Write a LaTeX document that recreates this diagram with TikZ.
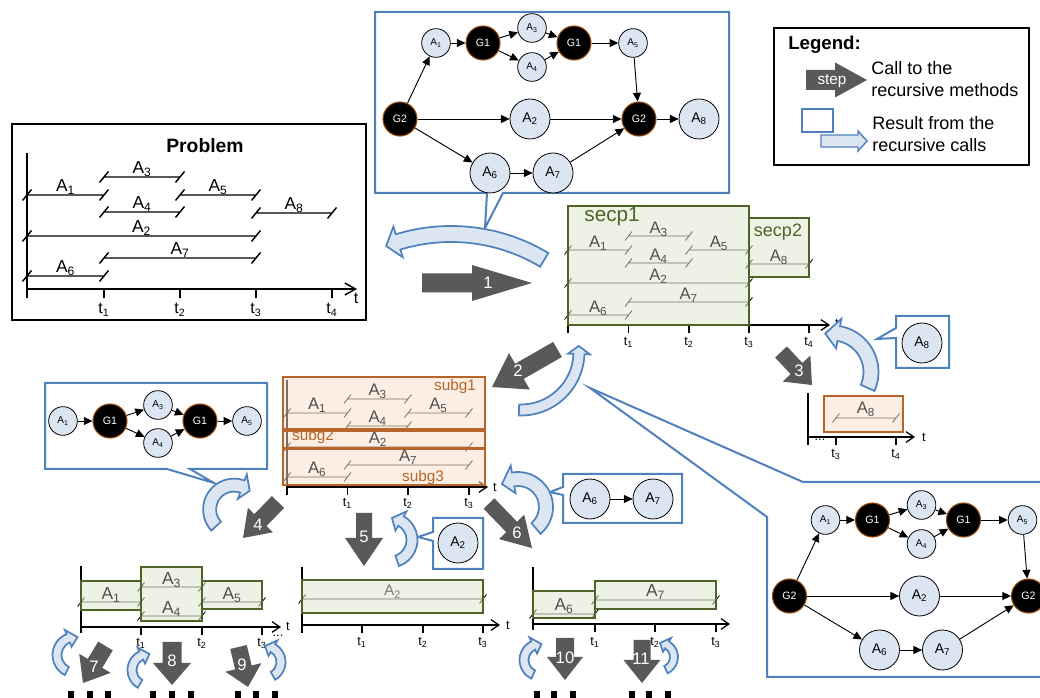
\documentclass[tikz,border=0pt]{standalone}
\usepackage{fontspec}
\setmainfont{Liberation Sans}
\usetikzlibrary{arrows.meta}

\definecolor{callblue}{HTML}{4F81BD}
\definecolor{paleblue}{HTML}{DCE6F2}
\definecolor{stepgray}{HTML}{595959}
\definecolor{lblgray}{HTML}{505050}
\definecolor{secgreen}{HTML}{4F6228}
\definecolor{secfill}{HTML}{DDE5C9}
\definecolor{subgbrown}{HTML}{B7652A}
\definecolor{subgfill}{HTML}{F9DDC5}
\definecolor{gateedge}{HTML}{984807}

\newcommand{\asub}[1]{A\textsubscript{#1}}
\newcommand{\tsub}[1]{t\textsubscript{#1}}

\begin{document}
\begin{tikzpicture}[x=0.75pt,y=-0.75pt]
\tikzset{font=\fontsize{12}{14}\selectfont}
\tikzset{smallact/.style={circle, draw, line width=0.6pt, fill=paleblue, minimum size=21.5pt, inner sep=0pt, font=\fontsize{7.5}{8}\selectfont}}
\tikzset{bigact/.style={smallact, minimum size=30pt, font=\fontsize{10.5}{12}\selectfont}}
\tikzset{gate/.style={circle, draw=gateedge, line width=0.8pt, fill=black, text=white, minimum size=25.5pt, inner sep=0pt, font=\fontsize{8}{9}\selectfont}}
\tikzset{flow/.style={line width=0.7pt, -{Triangle[length=6.5pt,width=6pt]}}}
\tikzset{callout/.style={draw=callblue, line width=1.5pt, fill=white}}
\tikzset{resback/.style={draw=callblue, line width=1.3pt, fill=paleblue}}
\tikzset{axis/.style={line width=0.9pt, -{Straight Barb[length=6pt,width=8pt]}}}
\tikzset{tickmark/.style={line width=0.9pt}}
\tikzset{span/.style={line width=0.6pt}}
\tikzset{barlbl/.style={anchor=base, inner sep=0pt, text=lblgray, font=\fontsize{12.5}{14}\selectfont}}
\tikzset{ticklbl/.style={inner sep=0pt, font=\fontsize{9.5}{11}\selectfont}}
\tikzset{secbox/.style={draw=secgreen, line width=1.7pt, fill=secfill, fill opacity=0.5}}
\tikzset{subgbox/.style={draw=subgbrown, line width=1.1pt, fill=subgfill, fill opacity=0.5}}
\tikzset{stepnum/.style={text=white, inner sep=0pt, font=\fontsize{12.5}{14}\selectfont}}
\tikzset{pics/stepshape/.style n args={4}{code={
  \fill[stepgray] (0,-#3) -- ({#1-#2},-#3) -- ({#1-#2},-#4) -- (#1,0)
    -- ({#1-#2},#4) -- ({#1-#2},#3) -- (0,#3) -- cycle;}}}
\tikzset{pics/backarrow/.style n args={5}{code={
  \draw[resback] ({#1}:{#3+#4}) arc[start angle={#1}, end angle={#2}, radius={#3+#4}]
    -- ({#2}:{#3+2*#4}) -- ({#2+(#5)}:{#3}) -- ({#2}:{#3-2*#4}) -- ({#2}:{#3-#4})
    arc[start angle={#2}, end angle={#1}, radius={#3-#4}] -- cycle;}}}
\useasboundingbox (0,0) rectangle (1040,698);

% whole graph, on top and bottom right
\draw[callout] (375,12) -- (729,12) -- (729,193) -- (503,193) -- (485,228) -- (487,193) -- (375,193) -- cycle;
\draw[callout] (803,482) -- (1045,482) -- (1045,677) -- (767,677) -- (767,517) -- (590,388) -- cycle;
\foreach \p/\dx/\dy in {t/0/0, b/389.5/477}{
\begin{scope}[shift={(\dx,\dy)}]
\node[gate] (\p g2a) at (400,119) {G2};
\node[smallact] (\p a1) at (436,43) {\asub{1}};
\node[gate] (\p g1a) at (483,43) {G1};
\node[smallact] (\p a3) at (532,28) {\asub{3}};
\node[smallact] (\p a4) at (532,67) {\asub{4}};
\node[gate] (\p g1b) at (574,43) {G1};
\node[smallact] (\p a5) at (633,43) {\asub{5}};
\node[bigact] (\p a2) at (530,119) {\asub{2}};
\node[gate] (\p g2b) at (639,119) {G2};
\node[bigact] (\p a6) at (490,173) {\asub{6}};
\node[bigact] (\p a7) at (553,173) {\asub{7}};
\draw[flow] (\p g2a) -- (\p a1);
\draw[flow] (\p a1) -- (\p g1a);
\draw[flow] (\p g1a) -- (\p a3);
\draw[flow] (\p g1a) -- (\p a4);
\draw[flow] (\p a3) -- (\p g1b);
\draw[flow] (\p a4) -- (\p g1b);
\draw[flow] (\p g1b) -- (\p a5);
\draw[flow] (\p a5) -- (\p g2b);
\draw[flow] (\p g2a) -- (\p a2);
\draw[flow] (\p a2) -- (\p g2b);
\draw[flow] (\p g2a) -- (\p a6);
\draw[flow] (\p a6) -- (\p a7);
\draw[flow] (\p a7) -- (\p g2b);
\end{scope}
}
\node[bigact] (ta8) at (699,119) {\asub{8}};
\draw[flow] (tg2b) -- (ta8);

% subgraph callouts
\draw[callout] (45,383) -- (267,383) -- (267,469) -- (190,469) -- (214,483) -- (167,469) -- (45,469) -- cycle;
\node[smallact] (la1) at (63,421) {\asub{1}};
\node[gate] (lg1a) at (110,421) {G1};
\node[smallact] (la3) at (158,405) {\asub{3}};
\node[smallact] (la4) at (158,443) {\asub{4}};
\node[gate] (lg1b) at (200,421) {G1};
\node[smallact] (la5) at (247,421) {\asub{5}};
\draw[flow] (la1) -- (lg1a);
\draw[flow] (lg1a) -- (la3);
\draw[flow] (lg1a) -- (la4);
\draw[flow] (la3) -- (lg1b);
\draw[flow] (la4) -- (lg1b);
\draw[flow] (lg1b) -- (la5);

\draw[callout] (433,518) -- (483,518) -- (483,569) -- (433,569) -- (433,541) -- (418,537) -- (433,532) -- cycle;
\node[bigact] (ca2) at (458,543) {\asub{2}};
\draw[callout] (563,474) -- (682,474) -- (682,523) -- (563,523) -- (563,495) -- (550,492) -- (563,487) -- cycle;
\node[bigact] (ca6) at (590,499) {\asub{6}};
\node[bigact] (ca7) at (653,499) {\asub{7}};
\draw[flow] (ca6) -- (ca7);
\draw[callout] (896,316) -- (949,316) -- (949,368) -- (896,368) -- (896,338) -- (877,339) -- (896,328) -- cycle;
\node[bigact] (ca8) at (922,343) {\asub{8}};

% problem
\draw[line width=1.8pt, fill=white] (12,124) rectangle (366,320);
\node[font=\fontsize{14.5}{16}\selectfont\bfseries] (prob) at (205,146) {Problem};
\draw[line width=1.1pt] (27,153) -- (27,298);
\draw[axis, line width=1.1pt, -{Straight Barb[length=8pt,width=9pt]}] (27,289) -- (357,289);
\node[inner sep=0pt] (pt) at (356,298) {t};
\foreach \i/\x in {1/104, 2/180, 3/256, 4/332}{
  \draw[line width=1.1pt] (\x,289) -- (\x,298);
  \node[inner sep=0pt] (pt\i) at (\x,310) {\tsub{\i}};
}
\foreach \n/\xa/\xb/\y in {1/27/104/195, 3/104/180/177, 5/180/256/195, 4/104/180/212, 8/256/332/213, 2/27/256/236, 7/104/256/258, 6/27/104/276}{
  \draw[line width=1.1pt] (\xa,\y) -- (\xb,\y) (\xa-4.5,\y+5.5) -- (\xa+4.5,\y-5.5) (\xb-4.5,\y+5.5) -- (\xb+4.5,\y-5.5);
  \node[barlbl, text=black, font=\fontsize{13}{14}\selectfont] (p\n) at ({(\xa+\xb)/2},\y-3) {\asub{\n}};
}

% secp
\def\secpbars{1/568/628.5/250, 3/628.5/689/236, 4/628.5/689/263, 5/689/749/250, 2/568/749/283, 7/628.5/749/302, 6/568/628.5/315, 8/749/809/264}
\draw[tickmark] (568,206) -- (568,333);
\draw[axis] (568,325) -- (830,325);
\node[ticklbl] (st) at (837,323) {t};
\foreach \i/\x in {1/628.5, 2/689, 3/749, 4/809}{
  \draw[tickmark] (\x,325) -- (\x,333);
  \node[ticklbl] (st\i) at (\x,342) {\tsub{\i}};
}
\foreach \n/\xa/\xb/\y in \secpbars
  \draw[span] (\xa,\y) -- (\xb,\y) (\xa-3.5,\y+4.5) -- (\xa+3.5,\y-4.5) (\xb-3.5,\y+4.5) -- (\xb+3.5,\y-4.5);
\draw[secbox] (749,218) rectangle (809,277);
\draw[secbox] (568,206) rectangle (749,325);
\foreach \n/\xa/\xb/\y in \secpbars
  \node[barlbl] (s\n) at ({(\xa+\xb)/2},\y-2.5) {\asub{\n}};
\node[text=secgreen, font=\fontsize{15.5}{17}\selectfont] (secp1) at (612,217) {secp1};
\node[text=secgreen, font=\fontsize{13.5}{15}\selectfont] (secp2) at (778,232) {secp2};

% subg
\def\subgbars{1/287/347.5/413, 3/347.5/408/399, 4/347.5/408/426, 5/408/469/413, 2/287/469/447, 7/347.5/469/465, 6/287/347.5/477}
\draw[tickmark] (287,380) -- (287,495);
\draw[axis] (287,487) -- (488,487);
\node[ticklbl] (gt) at (495,487) {t};
\foreach \i/\x in {1/347.5, 2/408, 3/469}{
  \draw[tickmark] (\x,487) -- (\x,495);
  \node[ticklbl] (gt\i) at (\x,503) {\tsub{\i}};
}
\foreach \n/\xa/\xb/\y in \subgbars
  \draw[span] (\xa,\y) -- (\xb,\y) (\xa-3.5,\y+4.5) -- (\xa+3.5,\y-4.5) (\xb-3.5,\y+4.5) -- (\xb+3.5,\y-4.5);
\draw[subgbox] (283,377) rectangle (485,429);
\draw[subgbox] (283,431) rectangle (485,448);
\draw[subgbox] (283,449) rectangle (485,485);
\foreach \n/\xa/\xb/\y in \subgbars
  \node[barlbl] (g\n) at ({(\xa+\xb)/2},\y-3) {\asub{\n}};
\node[text=subgbrown, font=\fontsize{11.5}{13}\selectfont] (subg1) at (455,387) {subg1};
\node[text=subgbrown, font=\fontsize{11.5}{13}\selectfont] (subg2) at (313,437) {subg2};
\node[text=subgbrown, font=\fontsize{11.5}{13}\selectfont] (subg3) at (423,478) {subg3};

% secp2 alone
\draw[tickmark] (808,393) -- (808,445);
\draw[axis] (808,437) -- (915,437);
\node[ticklbl] (et) at (924,437) {t};
\node[ticklbl] (edots) at (820,440) {...};
\foreach \i/\x in {3/836, 4/896}{
  \draw[tickmark] (\x,437) -- (\x,445);
  \node[ticklbl] (et\i) at (\x,454) {\tsub{\i}};
}
\draw[span] (836,418) -- (896,418) (832.5,422.5) -- (839.5,413.5) (892.5,422.5) -- (899.5,413.5);
\draw[subgbox] (824,396) rectangle (903,432);
\node[barlbl] (e8) at (866,414) {\asub{8}};

% subg1 scheduled
\def\leftbars{1/81/141/602, 3/141/202/587, 4/141/202/616, 5/202/262/602}
\draw[tickmark] (81,566) -- (81,633);
\draw[axis] (81,627) -- (281,627);
\node[ticklbl] (lt) at (288,626) {t};
\node[ticklbl] (ldots) at (278,636) {...};
\foreach \i/\x in {1/141, 2/202, 3/262}{
  \draw[tickmark] (\x,627) -- (\x,635);
  \node[ticklbl] (lt\i) at (\x,643) {\tsub{\i}};
}
\foreach \n/\xa/\xb/\y in \leftbars
  \draw[span] (\xa,\y) -- (\xb,\y) (\xa-3.5,\y+4.5) -- (\xa+3.5,\y-4.5) (\xb-3.5,\y+4.5) -- (\xb+3.5,\y-4.5);
\draw[secbox] (81,581) rectangle (141,610);
\draw[secbox] (202,581) rectangle (262,609);
\draw[secbox] (141,567) rectangle (202,621);
\foreach \n/\xa/\xb/\y in \leftbars
  \node[barlbl, font=\fontsize{13}{14}\selectfont] (l\n) at ({(\xa+\xb)/2},\y-2.5) {\asub{\n}};

% subg2 scheduled
\draw[tickmark] (302,567) -- (302,633);
\draw[axis] (302,625) -- (500,625);
\node[ticklbl] (mt) at (508,625) {t};
\foreach \i/\x in {1/362, 2/423, 3/483}{
  \draw[tickmark] (\x,625) -- (\x,633);
  \node[ticklbl] (mt\i) at (\x,642) {\tsub{\i}};
}
\draw[span] (302,599) -- (483,599) (298.5,603.5) -- (305.5,594.5) (479.5,603.5) -- (486.5,594.5);
\draw[secbox] (302,580) rectangle (483,613);
\node[barlbl, text=stepgray!80, font=\fontsize{11.5}{13}\selectfont] (m2) at (392.5,596) {\asub{2}};

% subg3 scheduled
\def\rightbars{6/533/595/614, 7/595/716/600}
\draw[tickmark] (533,567) -- (533,630);
\draw[axis] (533,624) -- (730,624);
\foreach \i/\x in {1/595, 2/655, 3/716}{
  \draw[tickmark] (\x,624) -- (\x,632);
  \node[ticklbl] (rt\i) at (\x,642) {\tsub{\i}};
}
\foreach \n/\xa/\xb/\y in \rightbars
  \draw[span] (\xa,\y) -- (\xb,\y) (\xa-3.5,\y+4.5) -- (\xa+3.5,\y-4.5) (\xb-3.5,\y+4.5) -- (\xb+3.5,\y-4.5);
\draw[secbox] (533,591) rectangle (595,618);
\draw[secbox] (595,581) rectangle (716,609);
\foreach \n/\xa/\xb/\y in \rightbars
  \node[barlbl, font=\fontsize{13}{14}\selectfont] (r\n) at ({(\xa+\xb)/2},\y-3.5) {\asub{\n}};

% calls
\pic at (422,283) {stepshape={110}{60}{9.5}{18}};
\node[stepnum] (n1) at (488,283) {1};
\pic[rotate=-150.2] at (557.5,349.5) {stepshape={75.5}{31.6}{8.7}{21}};
\node[stepnum] (n2) at (518,371) {2};
\pic[rotate=-46.8] at (781,352) {stepshape={45.3}{22.6}{8.1}{19}};
\node[stepnum] (n3) at (799,371) {3};
\pic[rotate=-134.2] at (278,502) {stepshape={50.2}{25}{8.5}{17.5}};
\node[stepnum] (n4) at (258,525) {4};
\pic[rotate=-90] at (364,513) {stepshape={53}{28}{8}{19}};
\node[stepnum] (n5) at (364,537) {5};
\pic[rotate=-46] at (489,503.5) {stepshape={61.9}{29.3}{7.5}{17.5}};
\node[stepnum] (n6) at (517,533) {6};
\pic[rotate=-121.3] at (105.5,646) {stepshape={43.3}{23}{8.5}{18.4}};
\node[stepnum] (n7) at (94,667) {7};
\pic[rotate=-90] at (172,642) {stepshape={43}{22}{9.5}{19}};
\node[stepnum] (n8) at (172,661) {8};
\pic[rotate=-76.6] at (238.5,647) {stepshape={41}{20}{8.5}{18.5}};
\node[stepnum] (n9) at (242,665) {9};
\pic[rotate=-90] at (565,638) {stepshape={42}{23}{9}{18}};
\node[stepnum] (n10) at (565,658) {10};
\pic[rotate=-90] at (642,640) {stepshape={43}{23}{8.5}{18.5}};
\node[stepnum] (n11) at (641,659) {11};

% results
\pic at (451,415) {backarrow={-59}{-107}{181}{8}{-4}};
\pic at (521,352) {backarrow={92}{2}{58}{5.5}{-8}};
\pic at (832,372) {backarrow={24}{-80}{39}{7.5}{-20}};
\pic at (234,509.5) {backarrow={137}{290}{24.4}{6.5}{20}};
\pic at (390,540) {backarrow={71}{-60}{22}{5.5}{-25}};
\pic at (518,507) {backarrow={50}{-100}{28}{7}{-25}};
\pic at (75,655) {backarrow={117}{248}{18}{4.5}{30}};
\pic at (148,670) {backarrow={120}{245}{16}{4.5}{30}};
\pic at (265,662) {backarrow={60}{-60}{16}{4.5}{-30}};
\pic at (540,660) {backarrow={115}{245}{16}{4.5}{30}};
\pic at (660,657) {backarrow={65}{-60}{14}{4}{-30}};

\foreach \x in {71,90,108,153,172,191,238,256,275,537,554,573,632,649,668}
  \fill (\x-3,691) rectangle (\x+3,698);

% legend
\draw[line width=1.5pt, fill=white] (774,28) rectangle (1029,165);
\node[anchor=west, inner sep=0pt, font=\fontsize{14}{16}\selectfont\bfseries] (leghead) at (788,45) {Legend:};
\pic at (806,80) {stepshape={61}{32}{10}{17.5}};
\node[stepnum, font=\fontsize{11.5}{13}\selectfont] (legstep) at (832,81) {step};
\node[anchor=west, align=left, inner sep=0pt, font=\fontsize{13.5}{16.5}\selectfont] (legcall) at (871,79) {Call to the\\recursive methods};
\draw[callout, line width=1.2pt] (802,109) rectangle (833,132);
\draw[resback, line width=1.1pt] (821,135) -- (858,135) -- (858,131) -- (867,141) -- (858,151) -- (858,147) -- (821,147) -- cycle;
\node[anchor=west, align=left, inner sep=0pt, font=\fontsize{13.5}{16.5}\selectfont] (legres) at (872,134) {Result from the\\recursive calls};
\end{tikzpicture}
\end{document}
